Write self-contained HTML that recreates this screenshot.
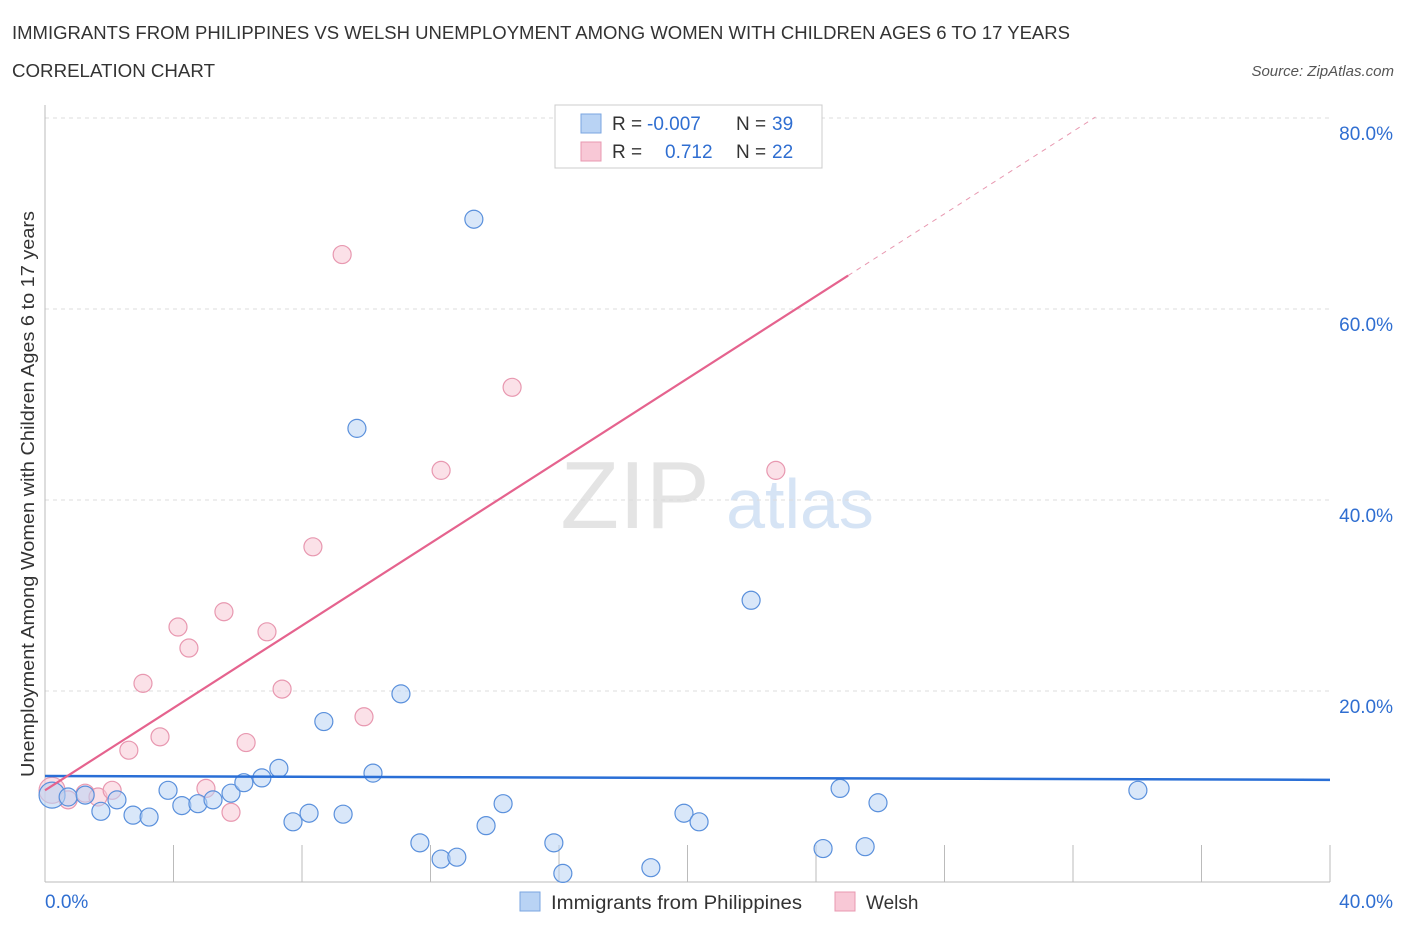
<!DOCTYPE html>
<html><head><meta charset="utf-8"><style>
body{margin:0;background:#fff;font-family:"Liberation Sans",sans-serif;}
svg text{font-family:"Liberation Sans",sans-serif;}
</style></head><body>
<svg id="c" width="1406" height="930">
<text x="12" y="39" font-size="18" textLength="1058" lengthAdjust="spacingAndGlyphs" fill="#333">IMMIGRANTS FROM PHILIPPINES VS WELSH UNEMPLOYMENT AMONG WOMEN WITH CHILDREN AGES 6 TO 17 YEARS</text>
<text x="12" y="77" font-size="18" textLength="203" lengthAdjust="spacingAndGlyphs" fill="#333">CORRELATION CHART</text>
<text x="1394" y="76" font-size="15" fill="#555" font-style="italic" text-anchor="end">Source: ZipAtlas.com</text>
<text x="635" y="528" font-size="96" fill="#e4e4e4" font-family="Liberation Serif" text-anchor="middle">ZIP</text>
<text x="800" y="528" font-size="70" fill="#d6e4f5" text-anchor="middle">atlas</text>
<text transform="translate(34,777) rotate(-90)" font-size="18" textLength="566" lengthAdjust="spacingAndGlyphs" fill="#333">Unemployment Among Women with Children Ages 6 to 17 years</text>
<g id="grid"></g><g id="marks"></g>
<g>
<rect x="555" y="105" width="267" height="63" fill="#fff" stroke="#ccc"/>
<rect x="581" y="114" width="20" height="19" fill="#b9d3f4" stroke="#7aa6e0"/>
<text x="612" y="130" font-size="19" fill="#333">R = </text><text x="647" y="130" font-size="19" fill="#2f6ed1">-0.007</text>
<text x="736" y="130" font-size="19" fill="#333">N = </text><text x="772" y="130" font-size="19" fill="#2f6ed1">39</text>
<rect x="581" y="142" width="20" height="19" fill="#f8c8d6" stroke="#e898b0"/>
<text x="612" y="158" font-size="19" fill="#333">R = </text><text x="665" y="158" font-size="19" fill="#2f6ed1">0.712</text>
<text x="736" y="158" font-size="19" fill="#333">N = </text><text x="772" y="158" font-size="19" fill="#2f6ed1">22</text>
</g>
<g>
<rect x="520" y="892" width="20" height="19" fill="#b9d3f4" stroke="#7aa6e0"/>
<text x="551" y="909" font-size="19" textLength="251" lengthAdjust="spacingAndGlyphs" fill="#333">Immigrants from Philippines</text>
<rect x="835" y="892" width="20" height="19" fill="#f8c8d6" stroke="#e898b0"/>
<text x="866" y="909" font-size="19" fill="#333">Welsh</text>
</g>
</svg>
<script>
const blueX=[0.22,0.72,1.25,1.74,2.24,2.74,3.24,3.83,4.26,4.76,5.23,5.79,6.19,6.75,7.28,7.72,8.22,8.68,9.28,9.71,10.21,11.08,11.67,12.33,12.82,13.35,13.73,14.26,15.84,16.12,18.86,19.89,20.36,21.98,24.22,24.75,25.53,25.93,34.02];
const blueY=[9.1,8.9,9.1,7.4,8.6,7.0,6.8,9.6,8.0,8.2,8.6,9.3,10.4,10.9,11.9,6.3,7.2,16.8,7.1,47.5,11.4,19.7,4.1,2.4,2.6,69.4,5.9,8.2,4.1,0.9,1.5,7.2,6.3,29.5,3.5,9.8,3.7,8.3,9.6];
const pinkX=[0.22,0.72,1.25,1.65,2.09,2.61,3.05,3.58,4.14,4.48,5.01,5.57,5.79,6.26,6.91,7.38,8.34,9.25,9.93,12.33,14.54,22.75];
const pinkY=[9.6,8.6,9.3,8.9,9.6,13.8,20.8,15.2,26.7,24.5,9.8,28.3,7.3,14.6,26.2,20.2,35.1,65.7,17.3,43.1,51.8,43.1];
const blueTrend=[11.1,10.7];
const pinkTrend=[9.6,2.156];
const yTicks=[20,40,60,80];
const xTickCount=10;
const NS="http://www.w3.org/2000/svg";
const X=v=>45+v/40*1285, Y=v=>882-v/20*191;
function mk(t,a,p){const e=document.createElementNS(NS,t);for(const k in a)e.setAttribute(k,a[k]);p.appendChild(e);return e;}
const g=document.getElementById('grid'),m=document.getElementById('marks');
yTicks.forEach(t=>{
 const l=mk('line',{x1:45,x2:1330,y1:Y(t),y2:Y(t),stroke:'#ddd','stroke-dasharray':'4,4'},g);
 
 
 const tx=mk('text',{x:1393,y:Y(t)+22,'font-size':19,fill:'#2f6ed1','text-anchor':'end'},g);tx.textContent=t.toFixed(1)+'%';
 
 
});
for(let i=1;i<=xTickCount;i++){const l=mk('line',{x1:X(i*4),x2:X(i*4),y1:845,y2:882,stroke:'#bbb'},g);
 
 }
const ax=mk('line',{x1:45,x2:45,y1:105,y2:882,stroke:'#bbb'},g);


const bx=mk('line',{x1:45,x2:1330,y1:882,y2:882,stroke:'#bbb'},g);


const t0=mk('text',{x:45,y:908,'font-size':19,fill:'#2f6ed1'},g);t0.textContent='0.0%';


const t1=mk('text',{x:1393,y:908,'font-size':19,fill:'#2f6ed1','text-anchor':'end'},g);t1.textContent='40.0%';


function pts(xs,ys,fill,stroke,name){xs.forEach((x,i)=>{const big=i===0;
 const c=mk('circle',{cx:X(x),cy:Y(ys[i]),r:big?13:9,fill:fill,'fill-opacity':big?0.6:0.55,stroke:stroke,'stroke-width':1.2},m);
 
 });}
pts(pinkX,pinkY,'#f8c8d6','#e898b0','welsh-point');
pts(blueX,blueY,'#b9d3f4','#5a90dc','philippines-point');
const bl=mk('line',{x1:X(0),x2:X(40),y1:Y(blueTrend[0]),y2:Y(blueTrend[1]),stroke:'#2a6fd6','stroke-width':2.5},m);


const pl=mk('line',{x1:X(0),x2:X(25),y1:Y(pinkTrend[0]),y2:Y(pinkTrend[0]+pinkTrend[1]*25),stroke:'#e5638e','stroke-width':2.2},m);


const pd=mk('line',{x1:X(25),x2:X(32.7),y1:Y(pinkTrend[0]+pinkTrend[1]*25),y2:Y(pinkTrend[0]+pinkTrend[1]*32.7),stroke:'#e898b0','stroke-width':1,'stroke-dasharray':'5,5'},m);


</script>
</body></html>
